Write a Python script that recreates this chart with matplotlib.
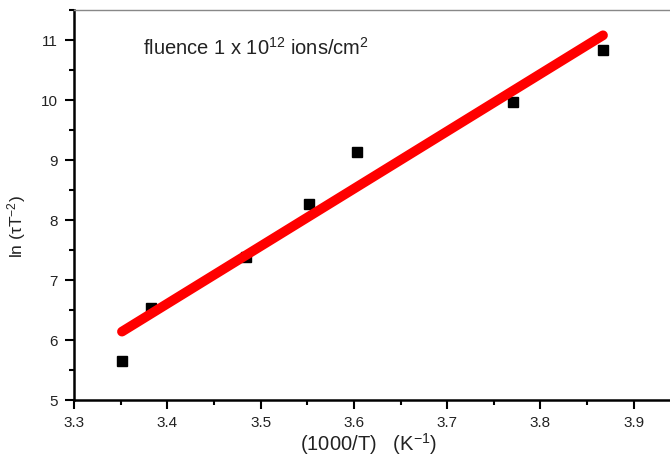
import matplotlib
matplotlib.use('Agg')
import matplotlib.pyplot as plt
from matplotlib.ticker import MultipleLocator

plt.rcParams['font.family'] = ['Liberation Sans', 'DejaVu Sans']
plt.rcParams['mathtext.default'] = 'regular'

# measured points
inv_t = [3.351, 3.3825, 3.484, 3.5515, 3.603, 3.770, 3.867]
ln_tau = [5.655, 6.53, 7.38, 8.26, 9.13, 9.97, 10.83]

# linear fit end points
fit_x = [3.3514, 3.867]
fit_y = [6.14, 11.08]

xticks = [3.3, 3.4, 3.5, 3.6, 3.7, 3.8, 3.9]
yticks = [5, 6, 7, 8, 9, 10, 11]

fig = plt.figure(figsize=(6.7, 4.62), dpi=100)
ax = fig.add_axes([74 / 670, 62 / 462, 596 / 670, 390.5 / 462])

ax.plot(fit_x, fit_y, color='#ff0000', lw=7, solid_capstyle='round', zorder=3)
ax.plot(inv_t, ln_tau, 's', color='black', ms=6.5, zorder=2)

ax.set_xlim(3.3, 3.9388)
ax.set_ylim(5, 11.51)
ax.set_xticks(xticks)
ax.set_yticks(yticks)
ax.xaxis.set_minor_locator(MultipleLocator(0.05))
ax.yaxis.set_minor_locator(MultipleLocator(0.5))

ax.spines['right'].set_visible(False)
ax.spines['left'].set_linewidth(1.8)
ax.spines['bottom'].set_linewidth(1.8)
ax.spines['top'].set_linewidth(1.0)
ax.spines['top'].set_color('#888888')

ax.tick_params(which='major', direction='out', length=6.5, width=1.5,
               labelsize=11, colors='black', labelcolor='#222222', pad=5)
ax.tick_params(which='minor', direction='out', length=3.5, width=1.5)
ax.tick_params(top=False, right=False, which='both')

ax.set_xlabel(r'(1000/T)   (K$^{\mathregular{-1}}$)', fontsize=14.5,
              color='#222222')
ax.xaxis.set_label_coords(0.495, -0.08)
ax.set_ylabel(r'ln ($\mathregular{\tau}$T$^{\mathregular{-2}}$)', fontsize=12.5,
              color='#222222')
ax.yaxis.set_label_coords(-0.077, 0.445)

ax.text(3.374, 10.75, r'fluence 1 x 10$^{\mathregular{12}}$ ions/cm$^{\mathregular{2}}$',
        fontsize=14.5, color='#222222', va='baseline')

fig.savefig('out.png', dpi=100)
